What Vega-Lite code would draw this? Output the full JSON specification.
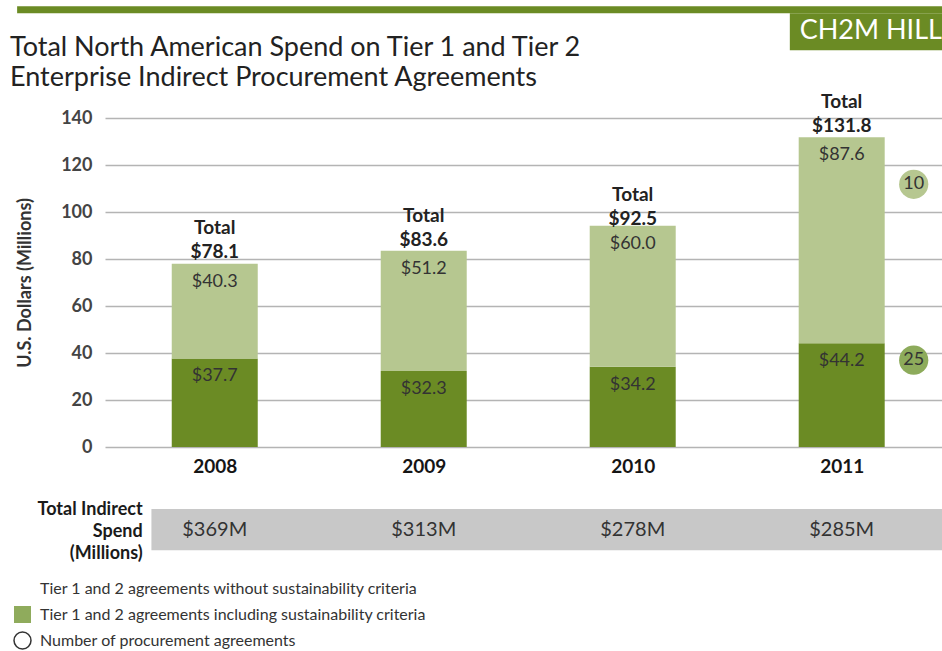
{
  "$schema": "https://vega.github.io/schema/vega-lite/v6.json",
  "autosize": {"type": "none"},
  "padding": {"left": 105, "top": 118, "right": 0, "bottom": 204},
  "width": 837,
  "height": 329,
  "background": "white",
  "config": {
    "view": {"stroke": null},
    "font": "Lato",
    "axisX": {"grid": false, "domain": false, "ticks": false, "labelFontSize": 19, "labelFontWeight": "bold", "labelColor": "#151515", "labelPadding": 10, "labelFlush": false, "labelFont": "Lato"},
    "axisY": {"grid": true, "gridColor": "#b4b4b4", "gridWidth": 1.5, "domain": false, "ticks": false, "labelFontSize": 18, "labelFontWeight": "bold", "labelColor": "#444444", "labelPadding": 13,
      "titleFontSize": 18, "titleFontWeight": "bold", "titleColor": "#333333", "titlePadding": 26, "labelFont": "Lato", "titleFont": "Lato"}
  },
  "title": {
    "text": ["Total North American Spend on Tier 1 and Tier 2", "Enterprise Indirect Procurement Agreements"],
    "anchor": "start", "frame": "group", "fontSize": 27, "fontWeight": "normal",
    "font": "Lato", "color": "#222222", "lineHeight": 30, "offset": 0, "dx": -95, "dy": 86
  },
  "datasets": {
    "spend": [
      {"year": 2008, "segment": "Tier 1 and 2 agreements including sustainability criteria", "order": 1, "value": 37.7, "agreements": null},
      {"year": 2008, "segment": "Tier 1 and 2 agreements without sustainability criteria", "order": 2, "value": 40.3, "agreements": null},
      {"year": 2009, "segment": "Tier 1 and 2 agreements including sustainability criteria", "order": 1, "value": 32.3, "agreements": null},
      {"year": 2009, "segment": "Tier 1 and 2 agreements without sustainability criteria", "order": 2, "value": 51.2, "agreements": null},
      {"year": 2010, "segment": "Tier 1 and 2 agreements including sustainability criteria", "order": 1, "value": 34.2, "agreements": null},
      {"year": 2010, "segment": "Tier 1 and 2 agreements without sustainability criteria", "order": 2, "value": 60.0, "agreements": null},
      {"year": 2011, "segment": "Tier 1 and 2 agreements including sustainability criteria", "order": 1, "value": 44.2, "agreements": 25},
      {"year": 2011, "segment": "Tier 1 and 2 agreements without sustainability criteria", "order": 2, "value": 87.6, "agreements": 10}
    ],
    "totals": [
      {"year": 2008, "total": 78.1, "indirect": 369000000},
      {"year": 2009, "total": 83.6, "indirect": 313000000},
      {"year": 2010, "total": 92.5, "indirect": 278000000},
      {"year": 2011, "total": 131.8, "indirect": 285000000}
    ],
    "legendItems": [
      {"item": "Tier 1 and 2 agreements without sustainability criteria"},
      {"item": "Tier 1 and 2 agreements including sustainability criteria"},
      {"item": "Number of procurement agreements"}
    ]
  },
  "layer": [
    {
      "data": {"name": "spend"},
      "transform": [{"stack": "value", "groupby": ["year"], "sort": [{"field": "order", "order": "ascending"}], "as": ["v0", "v1"]}],
      "mark": {"type": "bar", "width": 86, "orient": "vertical"},
      "encoding": {
        "x": {"field": "year", "type": "quantitative",
          "scale": {"domain": [2007.4988, 2011.456], "nice": false, "zero": false},
          "axis": {"values": [2008, 2009, 2010, 2011], "format": "d", "title": null}},
        "y": {"field": "v0", "type": "quantitative",
          "scale": {"domain": [0, 140], "nice": false},
          "axis": {"values": [0, 20, 40, 60, 80, 100, 120, 140], "title": "U.S. Dollars (Millions)"}},
        "y2": {"field": "v1"},
        "color": {"field": "segment", "type": "nominal",
          "scale": {"domain": ["Tier 1 and 2 agreements without sustainability criteria", "Tier 1 and 2 agreements including sustainability criteria"],
            "range": ["#b6c790", "#6b8b24"]},
          "legend": null}
      }
    },
    {
      "data": {"name": "legendItems"},
      "mark": {"type": "point", "filled": true, "size": 0, "opacity": 1, "strokeWidth": 1.5},
      "encoding": {
        "x": {"datum": 2013, "type": "quantitative", "scale": {"domain": [2007.4988, 2011.456], "nice": false, "zero": false}},
        "y": {"datum": 0, "type": "quantitative", "scale": {"domain": [0, 140], "nice": false}},
        "fill": {"field": "item", "type": "nominal",
          "scale": {"domain": ["Tier 1 and 2 agreements without sustainability criteria", "Tier 1 and 2 agreements including sustainability criteria", "Number of procurement agreements"],
            "range": ["transparent", "#8fab5c", "#ffffff"]},
          "legend": {"title": null, "orient": "none", "legendX": -92, "legendY": 461, "direction": "vertical", "padding": 0,
            "symbolSize": 289, "symbolStrokeWidth": 1.5, "symbolOpacity": 1, "rowPadding": 3, "labelFontSize": 16, "labelColor": "#333333", "labelLimit": 0, "labelOffset": 8, "labelFont": "Lato"}},
        "shape": {"field": "item", "type": "nominal",
          "scale": {"domain": ["Tier 1 and 2 agreements without sustainability criteria", "Tier 1 and 2 agreements including sustainability criteria", "Number of procurement agreements"],
            "range": ["square", "square", "circle"]},
          "legend": {"title": null, "orient": "none", "legendX": -92, "legendY": 461, "direction": "vertical", "padding": 0,
            "symbolSize": 289, "symbolStrokeWidth": 1.5, "symbolOpacity": 1, "rowPadding": 3, "labelFontSize": 16, "labelColor": "#333333", "labelLimit": 0, "labelOffset": 8, "labelFont": "Lato"}},
        "stroke": {"field": "item", "type": "nominal",
          "scale": {"domain": ["Tier 1 and 2 agreements without sustainability criteria", "Tier 1 and 2 agreements including sustainability criteria", "Number of procurement agreements"],
            "range": ["transparent", "transparent", "#333333"]},
          "legend": {"title": null, "orient": "none", "legendX": -92, "legendY": 461, "direction": "vertical", "padding": 0,
            "symbolSize": 289, "symbolStrokeWidth": 1.5, "symbolOpacity": 1, "rowPadding": 3, "labelFontSize": 16, "labelColor": "#333333", "labelLimit": 0, "labelOffset": 8, "labelFont": "Lato"}}
      }
    },
    {
      "data": {"name": "spend"},
      "transform": [{"stack": "value", "groupby": ["year"], "sort": [{"field": "order", "order": "ascending"}], "as": ["v0", "v1"]}],
      "mark": {"type": "text", "baseline": "middle", "dy": 18, "fontSize": 18, "color": "#333333", "font": "Lato"},
      "encoding": {
        "x": {"field": "year", "type": "quantitative", "scale": {"domain": [2007.4988, 2011.456], "nice": false, "zero": false}},
        "y": {"field": "v1", "type": "quantitative", "scale": {"domain": [0, 140], "nice": false}},
        "text": {"field": "value", "type": "quantitative", "format": "$.1f"}
      }
    },
    {
      "data": {"name": "totals"},
      "mark": {"type": "text", "baseline": "alphabetic", "dy": -5, "fontSize": 19, "fontWeight": "bold", "color": "#222222", "font": "Lato"},
      "encoding": {
        "x": {"field": "year", "type": "quantitative", "scale": {"domain": [2007.4988, 2011.456], "nice": false, "zero": false}},
        "y": {"field": "total", "type": "quantitative", "scale": {"domain": [0, 140], "nice": false}},
        "text": {"field": "total", "type": "quantitative", "format": "$.1f"}
      }
    },
    {
      "data": {"name": "totals"},
      "mark": {"type": "text", "baseline": "alphabetic", "dy": -29, "fontSize": 19, "fontWeight": "bold", "color": "#222222", "font": "Lato", "text": "Total"},
      "encoding": {
        "x": {"field": "year", "type": "quantitative", "scale": {"domain": [2007.4988, 2011.456], "nice": false, "zero": false}},
        "y": {"field": "total", "type": "quantitative", "scale": {"domain": [0, 140], "nice": false}}
      }
    },
    {
      "data": {"values": [{}]},
      "mark": {"type": "rect", "color": "#c8c8c8"},
      "encoding": {
        "x": {"datum": 2007.697, "type": "quantitative", "scale": {"domain": [2007.4988, 2011.456], "nice": false, "zero": false}},
        "x2": {"datum": 2011.5},
        "y": {"datum": -26.4, "type": "quantitative", "scale": {"domain": [0, 140], "nice": false}},
        "y2": {"datum": -43.9}
      }
    },
    {
      "data": {"name": "totals"},
      "mark": {"type": "text", "baseline": "middle", "fontSize": 20, "color": "#333333", "font": "Lato"},
      "encoding": {
        "x": {"field": "year", "type": "quantitative", "scale": {"domain": [2007.4988, 2011.456], "nice": false, "zero": false}},
        "y": {"datum": -35.2, "type": "quantitative", "scale": {"domain": [0, 140], "nice": false}},
        "text": {"field": "indirect", "type": "quantitative", "format": "$.3s"}
      }
    },
    {
      "data": {"values": [{}]},
      "mark": {"type": "text", "align": "right", "baseline": "middle", "fontSize": 18, "fontWeight": "bold", "color": "#1a1a1a", "font": "Lato", "lineHeight": 22,
        "text": ["Total Indirect", "Spend", "(Millions)"]},
      "encoding": {
        "x": {"datum": 2007.655, "type": "quantitative", "scale": {"domain": [2007.4988, 2011.456], "nice": false, "zero": false}},
        "y": {"datum": -26.6, "type": "quantitative", "scale": {"domain": [0, 140], "nice": false}}
      }
    },
    {
      "data": {"name": "spend"},
      "transform": [
        {"stack": "value", "groupby": ["year"], "sort": [{"field": "order", "order": "ascending"}], "as": ["v0", "v1"]},
        {"filter": "datum.agreements != null && datum.order == 2"}
      ],
      "layer": [
        {"mark": {"type": "point", "filled": true, "size": 855, "color": "#b6c790", "opacity": 1, "xOffset": 72, "yOffset": 47}, "encoding": {}},
        {"mark": {"type": "text", "fontSize": 18, "color": "#333333", "font": "Lato", "baseline": "middle", "xOffset": 72, "yOffset": 47}, "encoding": {"text": {"field": "agreements", "type": "quantitative"}}}
      ],
      "encoding": {
        "x": {"field": "year", "type": "quantitative", "scale": {"domain": [2007.4988, 2011.456], "nice": false, "zero": false}},
        "y": {"field": "v1", "type": "quantitative", "scale": {"domain": [0, 140], "nice": false}}
      }
    },
    {
      "data": {"name": "spend"},
      "transform": [
        {"stack": "value", "groupby": ["year"], "sort": [{"field": "order", "order": "ascending"}], "as": ["v0", "v1"]},
        {"filter": "datum.agreements != null && datum.order == 1"}
      ],
      "layer": [
        {"mark": {"type": "point", "filled": true, "size": 855, "color": "#8dab5b", "opacity": 1, "xOffset": 72, "yOffset": 17}, "encoding": {}},
        {"mark": {"type": "text", "fontSize": 18, "color": "#333333", "font": "Lato", "baseline": "middle", "xOffset": 72, "yOffset": 17}, "encoding": {"text": {"field": "agreements", "type": "quantitative"}}}
      ],
      "encoding": {
        "x": {"field": "year", "type": "quantitative", "scale": {"domain": [2007.4988, 2011.456], "nice": false, "zero": false}},
        "y": {"field": "v1", "type": "quantitative", "scale": {"domain": [0, 140], "nice": false}}
      }
    },
    {
      "data": {"values": [{}]},
      "mark": {"type": "rule", "color": "#6b8b24", "strokeWidth": 7},
      "encoding": {
        "x": {"datum": 2007.0544, "type": "quantitative", "scale": {"domain": [2007.4988, 2011.456], "nice": false, "zero": false}},
        "x2": {"datum": 2011.5},
        "y": {"datum": 186.1, "type": "quantitative", "scale": {"domain": [0, 140], "nice": false}}
      }
    },
    {
      "data": {"values": [{}]},
      "mark": {"type": "rect", "color": "#6b8b24"},
      "encoding": {
        "x": {"datum": 2010.7518, "type": "quantitative", "scale": {"domain": [2007.4988, 2011.456], "nice": false, "zero": false}},
        "x2": {"datum": 2011.5},
        "y": {"datum": 184.6, "type": "quantitative", "scale": {"domain": [0, 140], "nice": false}},
        "y2": {"datum": 168.8}
      }
    },
    {
      "data": {"values": [{}]},
      "mark": {"type": "text", "align": "left", "baseline": "middle", "fontSize": 27, "color": "#ffffff", "font": "Lato", "text": "CH2M HILL"},
      "encoding": {
        "x": {"datum": 2010.7991, "type": "quantitative", "scale": {"domain": [2007.4988, 2011.456], "nice": false, "zero": false}},
        "y": {"datum": 177.2, "type": "quantitative", "scale": {"domain": [0, 140], "nice": false}}
      }
    }
  ]
}
